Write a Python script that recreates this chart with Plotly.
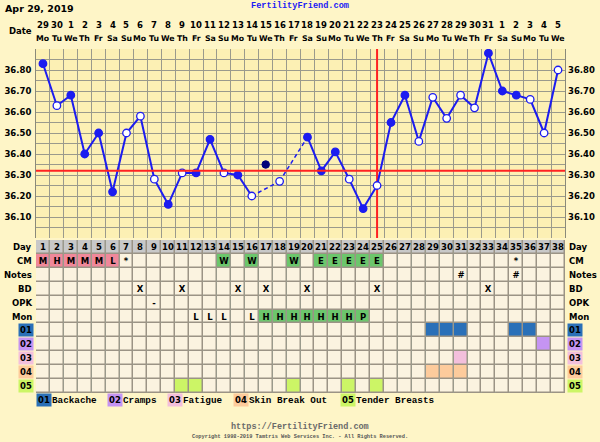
import plotly.graph_objects as go

# ---- data ----
days = list(range(1, 39))
month_days = [29, 30] + list(range(1, 32)) + [1, 2, 3, 4, 5]
weekdays = ["Mo", "Tu", "We", "Th", "Fr", "Sa", "Su"] * 5 + ["Mo", "Tu", "We"]

temps = [36.83, 36.63, 36.68, 36.40, 36.50, 36.22, 36.50, 36.58, 36.28, 36.16,
         36.31, 36.31, 36.47, 36.31, 36.30, 36.20, 36.35, 36.27, None, 36.48,
         36.32, 36.41, 36.28, 36.14, 36.25, 36.55, 36.68, 36.46, 36.67, 36.57,
         36.68, 36.62, 36.88, 36.70, 36.68, 36.66, 36.50, 36.80]
open_days = [2, 7, 8, 9, 11, 14, 16, 18, 23, 25, 28, 29, 30, 31, 32, 36, 37, 38]
excluded_days = [17]
coverline = 36.32
ovulation_day = 25

temp_ticks = [36.10, 36.20, 36.30, 36.40, 36.50, 36.60, 36.70, 36.80]

row_names = ["Day", "CM", "Notes", "BD", "OPK", "Mon", "01", "02", "03", "04", "05"]
cm = {1: "M", 2: "H", 3: "M", 4: "M", 5: "M", 6: "L", 7: "*", 14: "W", 16: "W", 19: "W",
      21: "E", 22: "E", 23: "E", 24: "E", 25: "E", 35: "*"}
notes = {31: "#", 35: "#"}
bd = {8: "X", 11: "X", 15: "X", 17: "X", 20: "X", 25: "X", 33: "X"}
opk = {9: "-"}
mon = {12: "L", 13: "L", 14: "L", 16: "L", 17: "H", 18: "H", 19: "H", 20: "H",
       21: "H", 22: "H", 23: "H", 24: "P"}
symptoms = {
    "01": [29, 30, 31, 35, 36],
    "02": [37],
    "03": [31],
    "04": [29, 30, 31],
    "05": [11, 12, 19, 23, 25],
}
symptom_names = {"01": "Backache", "02": "Cramps", "03": "Fatigue",
                 "04": "Skin Break Out", "05": "Tender Breasts"}

# ---- styling ----
PAGE = "#FEF5C7"
CHART = "#FCF0B4"
CELL = "#FBF3E0"
BORDER = "#9B9385"
GRID = "#9A9A8C"
BLUE = "#1C1CF0"
RED = "#FF2222"
palette = [CELL, "#C8C8C8", "#F0889A", "#6CC66C",
           "#2A70B8", "#C594F3", "#F3BFDC", "#FDCB9C", "#CCF566"]
sym_code = {"01": 4, "02": 5, "03": 6, "04": 7, "05": 8}
FONT = "DejaVu Sans"
MONO = "Liberation Mono"

W, H = 600, 442
def py(p):
    return 1 - p / H

# ---- table matrix ----
z, txt = [], []
for r in row_names:
    zr, tr = [], []
    for d in days:
        code, t = 0, ""
        if r == "Day":
            code, t = 1, str(d)
        elif r == "CM":
            t = cm.get(d, "")
            code = 2 if t in ("M", "H", "L") else 3 if t in ("W", "E") else 0
        elif r == "Notes":
            t = notes.get(d, "")
        elif r == "BD":
            t = bd.get(d, "")
        elif r == "OPK":
            t = opk.get(d, "")
        elif r == "Mon":
            t = mon.get(d, "")
            code = 3 if t in ("H", "P") else 0
        else:
            code = sym_code[r] if d in symptoms[r] else 0
        zr.append(code + 0.5)
        tr.append(t)
    z.append(zr)
    txt.append(tr)

n = len(palette)
cscale = []
for i, c in enumerate(palette):
    cscale += [[i / n, c], [(i + 1) / n, c]]

fig = go.Figure()

fig.add_trace(go.Heatmap(
    x=days, y=list(range(len(row_names))), z=z, text=txt,
    texttemplate="%{text}", textfont=dict(family=FONT, size=8.5, color="black", weight="bold"),
    colorscale=cscale, zmin=0, zmax=n, showscale=False, xgap=1.5, ygap=1.5,
    xaxis="x", yaxis="y2", hoverinfo="skip"))

# red coverline and ovulation line (on mirrored axis so right labels render)
fig.add_trace(go.Scatter(x=[0.5, 38.5], y=[coverline, coverline], mode="lines",
                         line=dict(color=RED, width=2), xaxis="x", yaxis="y3"))
fig.add_trace(go.Scatter(x=[ovulation_day, ovulation_day], y=[36.0, 36.9], mode="lines",
                         line=dict(color=RED, width=2), xaxis="x", yaxis="y"))

# solid line segments (excluded / missing temps break the line)
solid_y = [None if d in excluded_days else t for d, t in zip(days, temps)]
fig.add_trace(go.Scatter(x=days, y=solid_y, mode="lines", connectgaps=False,
                         line=dict(color=BLUE, width=2)))

# dashed line bridging gaps
valid = [(d, t) for d, t in zip(days, solid_y) if t is not None]
dx, dy = [], []
for (d0, t0), (d1, t1) in zip(valid[:-1], valid[1:]):
    if d1 - d0 > 1:
        dx += [d0, d1, None]
        dy += [t0, t1, None]
fig.add_trace(go.Scatter(x=dx, y=dy, mode="lines",
                         line=dict(color=BLUE, width=1.5, dash="4px,3px")))

# markers
mx = [d for d, t in zip(days, solid_y) if t is not None]
my = [t for t in solid_y if t is not None]
mfill = ["white" if d in open_days else BLUE for d in mx]
fig.add_trace(go.Scatter(x=mx, y=my, mode="markers",
                         marker=dict(size=7.5, color=mfill, line=dict(color=BLUE, width=1.3))))
ex = [d for d in excluded_days]
ey = [temps[d - 1] for d in excluded_days]
fig.add_trace(go.Scatter(x=ex, y=ey, mode="markers",
                         marker=dict(size=7.5, color="#00007A", line=dict(color="#00007A", width=1))))

# ---- axes ----
grid_vals = [round(36.0 + 0.05 * k, 2) for k in range(19)]
grid_text = [f"{v:.2f}" if any(abs(v - t) < 1e-6 for t in temp_ticks) else "" for v in grid_vals]
tickfont = dict(family=FONT, size=8.5, color="black", weight="bold")

x0, x1 = 36 / W, 565 / W
fig.update_layout(
    width=W, height=H, margin=dict(l=0, r=0, t=0, b=0),
    paper_bgcolor=PAGE, plot_bgcolor=CHART, showlegend=False,
    xaxis=dict(domain=[x0, x1], range=[0.5, 38.5], tickvals=[d + 0.5 for d in range(0, 39)],
               showticklabels=False, showgrid=True, gridcolor=GRID, gridwidth=1,
               zeroline=False, anchor="y", fixedrange=True),
    yaxis=dict(domain=[py(238), py(49)], range=[36.0, 36.9], tickvals=grid_vals, ticktext=grid_text,
               showgrid=True, gridcolor=GRID, gridwidth=1, zeroline=False, tickfont=tickfont,
               ticks="", ticklabelstandoff=2, showline=True, mirror=True, linecolor="#8A8A7A",
               anchor="x"),
    yaxis3=dict(overlaying="y", matches="y", side="right", tickvals=grid_vals, ticktext=grid_text,
                showgrid=False, zeroline=False, tickfont=tickfont, ticks="", ticklabelstandoff=2,
                anchor="x"),
    yaxis2=dict(domain=[py(393), py(240)], range=[len(row_names) - 0.5, -0.5],
                showticklabels=False, showgrid=False, zeroline=False, anchor="x"),
)

# table border colour behind the heatmap gaps, chart bg only in the chart
fig.add_shape(type="rect", xref="x domain", yref="y2 domain", x0=0, x1=1, y0=0, y1=1,
              fillcolor=BORDER, line=dict(width=0), layer="below")

ann = []
# header
ann.append(dict(text="Apr 29, 2019", x=3 / W, y=py(8), xanchor="left",
                font=dict(family=FONT, size=9.5, color="black", weight="bold")))
ann.append(dict(text="FertilityFriend.com", x=300 / W, y=py(6),
                font=dict(family=MONO, size=8.6, color="#1A1AF5", weight="bold")))
ann.append(dict(text="Date", x=34 / W, y=py(31), xanchor="right",
                font=dict(family=FONT, size=8.5, color="black", weight="bold")))
for d, md, wd in zip(days, month_days, weekdays):
    ann.append(dict(text=str(md), x=d, xref="x", y=py(25),
                    font=dict(family=FONT, size=8.5, color="black", weight="bold")))
    ann.append(dict(text=wd, x=d, xref="x", y=py(38),
                    font=dict(family=FONT, size=7.8, color="black", weight="bold")))

# table row labels, both sides
for i, r in enumerate(row_names):
    bg = palette[sym_code[r]] if r in sym_code else None
    for xx, anchor in [(34 / W, "right"), (567 / W, "left")]:
        a = dict(text=r, x=xx, y=i, yref="y2", xanchor=anchor,
                 font=dict(family=FONT, size=8.5, color="black", weight="bold"))
        if bg:
            a["bgcolor"] = bg
            a["borderpad"] = 1
        ann.append(a)

# symptom legend
legend_x = [36, 107, 167, 233, 340]
for xx, (code, name) in zip(legend_x, symptom_names.items()):
    ann.append(dict(text=code, x=xx / W, y=py(400), xanchor="left", bgcolor=palette[sym_code[code]],
                    borderpad=1, font=dict(family=FONT, size=8.5, color="black", weight="bold")))
    ann.append(dict(text=name, x=(xx + 14) / W, y=py(400), xanchor="left",
                    font=dict(family=MONO, size=9.3, color="black", weight="bold")))

# footer
ann.append(dict(text="https://FertilityFriend.com", x=300 / W, y=py(427),
                font=dict(family=MONO, size=8.5, color="#6A6A6A", weight="bold")))
ann.append(dict(text="Copyright 1998-2019 Tamtris Web Services Inc. - All Rights Reserved.",
                x=300 / W, y=py(437), font=dict(family=MONO, size=5.3, color="#555555", weight="bold")))

for a in ann:
    a.setdefault("xref", "paper")
    a.setdefault("yref", "paper")
    a.setdefault("showarrow", False)
    a.setdefault("yanchor", "middle")
fig.update_layout(annotations=ann)

fig.write_html("out.html", config={"displayModeBar": False},
               post_script="document.body.style.margin='0';")
